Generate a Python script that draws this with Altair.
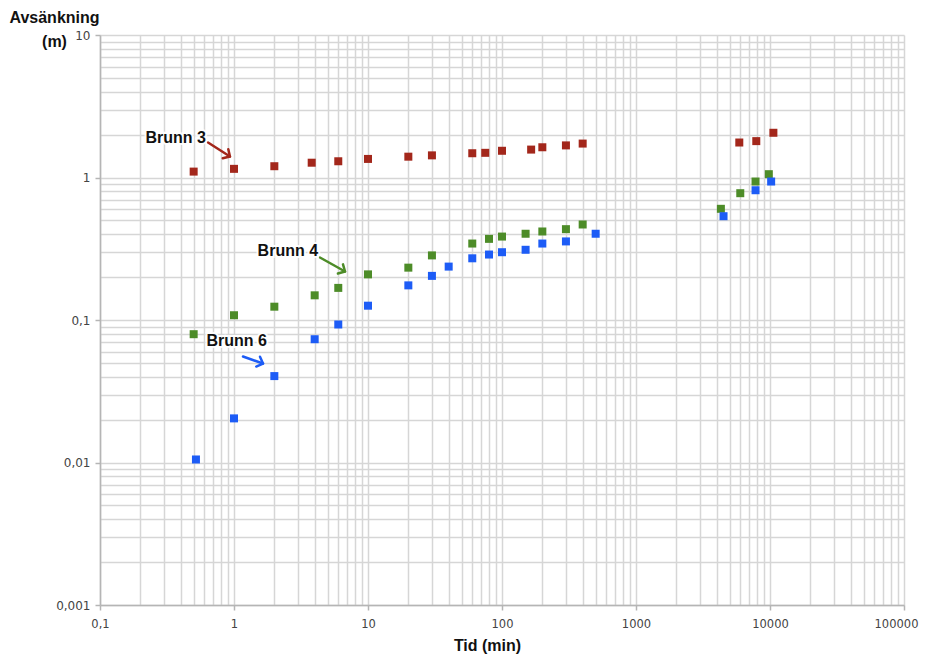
import altair as alt
import pandas as pd

# ---- data ----
t3 = [0.5, 1, 2, 3.8, 6, 10, 20, 30, 60, 75, 100, 165, 200, 300, 400, 5900, 7900, 10600]
s3 = [1.10, 1.15, 1.20, 1.27, 1.30, 1.35, 1.40, 1.43, 1.48, 1.49, 1.54, 1.57, 1.63, 1.68, 1.73, 1.76, 1.80, 2.06]

t4 = [0.5, 1, 2, 4, 6, 10, 20, 30, 60, 80, 100, 150, 200, 300, 400, 4300, 6000, 7800, 9800]
s4 = [0.0795, 0.108, 0.124, 0.149, 0.168, 0.209, 0.233, 0.284, 0.344, 0.371, 0.385, 0.403, 0.418, 0.434, 0.468,
      0.603, 0.776, 0.937, 1.055]

t6 = [0.52, 1, 2, 4, 6, 10, 20, 30, 40, 60, 80, 100, 150, 200, 300, 500, 4500, 7800, 10200]
s6 = [0.0105, 0.0204, 0.0404, 0.0733, 0.093, 0.126, 0.175, 0.204, 0.237, 0.271, 0.288, 0.299, 0.311, 0.344,
      0.356, 0.403, 0.535, 0.814, 0.937]

series = ["Brunn 3", "Brunn 4", "Brunn 6"]
colors = ["#a3271b", "#4d8c28", "#1d5cf6"]

# annotations (label anchor = right end of text, arrows start/end)
ann_label = ["Brunn 3", "Brunn 4", "Brunn 6"]
ann_tx = [0.618, 4.24, 1.763]
ann_ty = [1.878, 0.303, 0.0707]
arr_x1 = [0.640, 4.38, 1.167]
arr_y1 = [1.76, 0.2746, 0.0554]
arr_x2 = [0.933, 6.74, 1.646]
arr_y2 = [1.404, 0.219, 0.0495]
arr_angle = [32, 29, 21]

x_major = [0.1, 1, 10, 100, 1000, 10000, 100000]
y_major = [0.001, 0.01, 0.1, 1, 10]

# ---- tables ----
rows = []
for name, ts, ss in zip(series, [t3, t4, t6], [s3, s4, s6]):
    rows += [{"serie": name, "t": t, "s": s} for t, s in zip(ts, ss)]
df = pd.DataFrame(rows)

ann = pd.DataFrame({
    "serie": ann_label, "tx": ann_tx, "ty": ann_ty,
    "x1": arr_x1, "y1": arr_y1, "x2": arr_x2, "y2": arr_y2, "angle": arr_angle,
})


def all_ticks(majors):
    vals = []
    for m in majors[:-1]:
        e = f"{m:e}".split("e")[1]
        for k in range(1, 10):
            vals.append(float(f"{k}e{e}"))
    vals.append(float(majors[-1]))
    return vals


x_vals = all_ticks(x_major)
y_vals = all_ticks(y_major)

x_scale = alt.Scale(type="log", domain=[0.1, 100000])
y_scale = alt.Scale(type="log", domain=[0.001, 10])
col_scale = alt.Scale(domain=series, range=colors)

GRID = "#d6d6d6"


def major_test(majors):
    return "indexof([" + ",".join(repr(float(v)) for v in majors) + "], datum.value) >= 0"


x_axis = alt.Axis(
    values=x_vals,
    grid=True, gridColor=GRID, gridWidth=1.5,
    domainColor="#b5b5b5", domainWidth=1.5,
    tickColor="#b5b5b5", tickWidth=1.5, tickSize=5,
    tickOpacity={"condition": {"test": major_test(x_major), "value": 1}, "value": 0},
    labelExpr=f"{major_test(x_major)} ? replace(toString(datum.value), '.', ',') : ''",
    labelOffset={"condition": {"test": "datum.value == 100000", "value": -8}, "value": 0},
    labelFont="DejaVu Sans", labelFontSize=11.5, labelColor="#444444", labelPadding=8,
    labelFlush=False, labelOverlap=False,
    title="Tid (min)", titleFont="Liberation Sans", titleFontSize=16, titleFontWeight="bold",
    titleColor="#111111", titleX=387, titleY=40, titleBaseline="middle", titleAlign="center",
)

y_axis = alt.Axis(
    values=y_vals,
    grid=True, gridColor=GRID, gridWidth=1.5,
    domainColor="#b5b5b5", domainWidth=1.5,
    tickColor="#b5b5b5", tickWidth=1.5, tickSize=5,
    tickOpacity={"condition": {"test": major_test(y_major), "value": 1}, "value": 0},
    labelExpr=f"{major_test(y_major)} ? replace(toString(datum.value), '.', ',') : ''",
    labelFont="DejaVu Sans", labelFontSize=12, labelColor="#444444", labelPadding=5,
    labelFlush=False, labelOverlap=False,
    title=["Avsänkning", "(m)"], titleFont="Liberation Sans", titleFontSize=16, titleFontWeight="bold",
    titleColor="#111111", titleAngle=0, titleX=-46, titleY=-18, titleAlign="center",
    titleBaseline="middle", titleLineHeight=24,
)

points = alt.Chart(df).mark_square(size=64, opacity=1).encode(
    x=alt.X("t:Q", scale=x_scale, axis=x_axis),
    y=alt.Y("s:Q", scale=y_scale, axis=y_axis),
    color=alt.Color("serie:N", scale=col_scale, legend=None),
)

base_ann = alt.Chart(ann)

shafts = base_ann.mark_rule(strokeWidth=2.5, strokeCap="round").encode(
    x=alt.X("x1:Q", scale=x_scale, axis=x_axis),
    y=alt.Y("y1:Q", scale=y_scale, axis=y_axis),
    x2="x2:Q",
    y2="y2:Q",
    color=alt.Color("serie:N", scale=col_scale, legend=None),
)

heads = base_ann.mark_point(
    shape="M-1,-1L0,0L-1,1", size=110, filled=False, strokeWidth=2.5, opacity=1,
    strokeCap="round", strokeJoin="round",
).encode(
    x=alt.X("x2:Q", scale=x_scale, axis=x_axis),
    y=alt.Y("y2:Q", scale=y_scale, axis=y_axis),
    angle=alt.Angle("angle:Q", scale=None),
    color=alt.Color("serie:N", scale=col_scale, legend=None),
)

halo = base_ann.mark_text(
    align="right", baseline="middle", font="Liberation Sans", fontSize=16, fontWeight="bold",
    stroke="white", strokeWidth=4, strokeOpacity=0.9, color="white",
).encode(
    x=alt.X("tx:Q", scale=x_scale, axis=x_axis),
    y=alt.Y("ty:Q", scale=y_scale, axis=y_axis),
    text="serie:N",
)

labels = base_ann.mark_text(
    align="right", baseline="middle", font="Liberation Sans", fontSize=16, fontWeight="bold",
    color="#111111",
).encode(
    x=alt.X("tx:Q", scale=x_scale, axis=x_axis),
    y=alt.Y("ty:Q", scale=y_scale, axis=y_axis),
    text="serie:N",
)

chart = alt.layer(points, shafts, heads, halo, labels).properties(
    width=804, height=570,
    autosize=alt.AutoSizeParams(type="none"),
    padding={"left": 92, "top": 27, "right": 16, "bottom": 51},
    background="white",
).configure_view(stroke=None)

chart.save("out.html", embed_options={"renderer": "svg", "actions": False})
